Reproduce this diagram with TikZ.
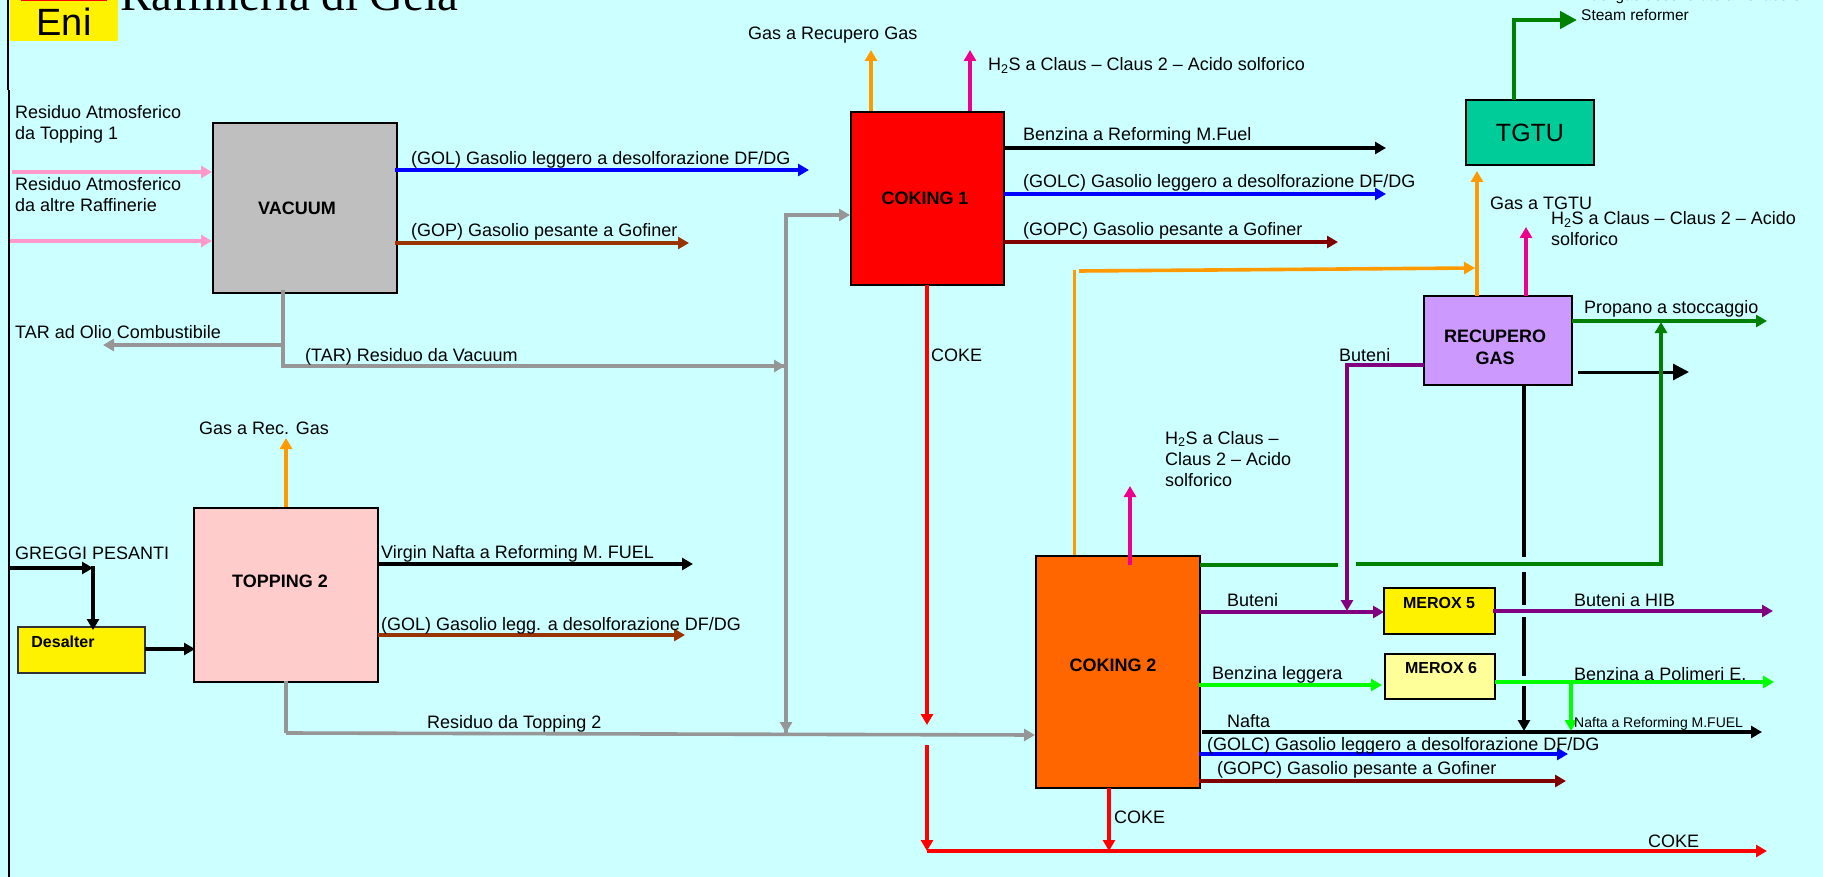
\documentclass[tikz,border=0pt]{standalone}
\usepackage{fontspec}
\setmainfont{Liberation Sans}
\newfontfamily\serifx{Liberation Serif}
\usetikzlibrary{arrows.meta}
\definecolor{bgc}{RGB}{204,255,255}
\definecolor{pinkf}{RGB}{255,153,204}
\definecolor{brownf}{RGB}{153,51,0}
\definecolor{dred}{RGB}{128,0,0}
\definecolor{orf}{RGB}{255,153,0}
\definecolor{purp}{RGB}{128,0,128}
\definecolor{dgreen}{RGB}{0,128,0}
\definecolor{lgreen}{RGB}{0,255,0}
\definecolor{greyf}{RGB}{150,150,150}
\tikzset{
 flow/.style={line width=3.6pt,-{Triangle[length=11pt,width=12pt]}},
 nflow/.style={line width=3.6pt},
 unit/.style={draw=black,line width=2.6pt,inner sep=0pt,font=\fontsize{18}{22}\selectfont\bfseries,align=center},
 lbl/.style={inner sep=0pt,anchor=base west,font=\fontsize{18}{21}\selectfont,align=left},
}
\begin{document}
\begin{tikzpicture}[x=1pt,y=-1pt]
\useasboundingbox (0,0) rectangle (1823,877);
\fill[bgc] (0,0) rectangle (1823,877);
\draw[black,line width=2.4pt] (8,0) -- (8,90);
\draw[black,line width=2.4pt] (9,90) -- (9,877);
% logo
\fill[yellow] (10,0) rectangle (118,41);
\fill[red] (21,0) rectangle (107,1);
\node[inner sep=0pt,anchor=base] (eni) at (64,36) {\fontsize{38}{40}\selectfont Eni};
\begin{scope}
\clip (0,0) rectangle (1823,877);
\node[inner sep=0pt,anchor=base west] (title) at (120,11) {\serifx\fontsize{47}{50}\selectfont Raffineria di Gela};
\end{scope}
% units
\node[unit,fill=gray!50!white,minimum width=184pt,minimum height=170pt] (vac) at (305,208) {};
\node[font=\fontsize{18}{22}\selectfont\bfseries,inner sep=0pt] (vact) at (297,208) {VACUUM};
\node[unit,fill=red!20!white,minimum width=184pt,minimum height=174pt] (top) at (286,595) {};
\node[font=\fontsize{18}{22}\selectfont\bfseries,inner sep=0pt] (topt) at (280,581) {TOPPING 2};
\node[draw=black!80,line width=2pt,fill=yellow,minimum width=127pt,minimum height=46pt,inner sep=0pt] (des) at (81.5,650) {};
\node[font=\fontsize{16}{20}\selectfont\bfseries,inner sep=0pt] (dest) at (63,642) {Desalter};
\node[unit,fill=red,minimum width=153pt,minimum height=173pt] (c1) at (927.5,198.5) {};
\node[font=\fontsize{18}{22}\selectfont\bfseries,inner sep=0pt] (c1t) at (925,198) {COKING 1};
\node[unit,fill={rgb,255:red,255;green,102;blue,0},minimum width=164pt,minimum height=232pt] (c2) at (1118,672) {};
\node[font=\fontsize{18}{22}\selectfont\bfseries,inner sep=0pt] (c2t) at (1113,665) {COKING 2};
\node[unit,fill={rgb,255:red,204;green,153;blue,255},minimum width=148pt,minimum height=89pt] (rec) at (1498,340.5) {};
\node[font=\fontsize{18}{22}\selectfont\bfseries,inner sep=0pt,align=center] (rect) at (1495,347) {RECUPERO\\GAS};
\node[draw=black,line width=1.8pt,fill={rgb,255:red,0;green,204;blue,153},minimum width=128pt,minimum height=65pt,inner sep=0pt,font=\fontsize{25}{28}\selectfont] (tgtu) at (1530,132.5) {TGTU};
\node[unit,fill=yellow,minimum width=111pt,minimum height=46pt] (m5) at (1439.5,611) {};
\node[font=\fontsize{16}{20}\selectfont\bfseries,inner sep=0pt] (m5t) at (1439,603) {MEROX 5};
\node[unit,fill={rgb,255:red,255;green,255;blue,153},minimum width=110pt,minimum height=45pt] (m6) at (1440,676.5) {};
\node[font=\fontsize{16}{20}\selectfont\bfseries,inner sep=0pt] (m6t) at (1441,668) {MEROX 6};
% coordinates
\coordinate (a1s) at (12,172); \coordinate (a1e) at (212,172);
\coordinate (a2s) at (10,241); \coordinate (a2e) at (212,241);
% inputs
\draw[flow,pinkf] (a1s) -- (a1e);
\draw[flow,pinkf] (a2s) -- (a2e);
% vacuum
\coordinate (v1) at (809,170); \coordinate (v2) at (689,243);
\draw[flow,blue] (395,170) -- (v1);
\draw[flow,brownf] (395,243) -- (v2);
\coordinate (tj) at (283,345); \coordinate (tar) at (103,345);
\coordinate (tk) at (283,366); \coordinate (g1) at (785,366);
\draw[nflow,greyf] (283,290) -- (tk) -- (g1);
\draw[flow,greyf] (tk) -- (g1);
\draw[flow,greyf] (tj) -- (tar);
\coordinate (gb) at (786,733); \coordinate (gt) at (786,215);
\draw[flow,greyf] (gb) -- (gt) -- (850,215);
\draw[flow,greyf] (786,500) -- (gb);
% topping
\draw[flow,orf] (286,507) -- (286,438);
\draw[flow,black] (378,564) -- (693,564);
\draw[flow,brownf] (378,635) -- (685,635);
\coordinate (rb) at (286,733);
\draw[nflow,greyf] (286,681) -- (rb);
\draw[flow,greyf] (rb) -- (1035,735);
% desalter
\draw[flow,black] (9,568) -- (93,568);
\draw[flow,black] (93,566) -- (93,630);
\draw[flow,black] (145,649) -- (195,649);
% coking 1
\draw[flow,orf] (871,111) -- (871,50);
\draw[flow,magenta] (970,111) -- (970,50);
\draw[flow,black] (1004,148) -- (1386,148);
\draw[flow,blue] (1004,194) -- (1386,194);
\draw[flow,dred] (1004,242) -- (1338,242);
\draw[flow,red] (927,285) -- (927,725);
\draw[flow,red] (927,745) -- (927,851);
% coking 2 orange
\draw[line width=3pt,orf] (1074,555) -- (1074,270);
\draw[flow,orf] (1079,271) -- (1475,268);
\draw[flow,orf] (1477,296) -- (1477,171);
\draw[flow,magenta] (1526,296) -- (1526,227);
\draw[flow,magenta] (1130,565) -- (1130,486);
% tgtu
\draw[line width=4.5pt,dgreen,-{Triangle[length=17pt,width=17pt]}] (1514,100) -- (1514,20) -- (1577,20);
% recupero
\draw[flow,dgreen] (1572,321) -- (1767,321);
\draw[line width=3pt,black,-{Triangle[length=16pt,width=16pt]}] (1578,372) -- (1689,372);
\draw[nflow,purp,line width=3.2pt] (1424,365) -- (1347,365) -- (1347,500);
\draw[flow,purp] (1347,365) -- (1347,611);
\draw[nflow,dgreen] (1200,565) -- (1338,565);
\draw[flow,dgreen] (1356,564) -- (1661,564) -- (1661,322);
\draw[nflow,black] (1524,385) -- (1524,557);
\draw[nflow,black] (1524,572) -- (1524,605);
\draw[nflow,black] (1524,617) -- (1524,676);
\draw[flow,black] (1524,686) -- (1524,731);
% coking 2 out
\draw[flow,purp] (1200,612) -- (1384,612);
\draw[flow,purp] (1493,611) -- (1773,611);
\draw[flow,lgreen] (1199,685) -- (1382,685);
\draw[flow,lgreen] (1495,682) -- (1774,682);
\draw[flow,lgreen] (1571,682) -- (1571,731);
\draw[flow,black] (1202,732) -- (1762,732);
\draw[flow,blue] (1199,754) -- (1568,754);
\draw[flow,dred] (1199,781) -- (1566,781);
\draw[flow,red] (1109,788) -- (1109,851);
\draw[flow,red] (927,851) -- (1767,851);
% labels
\node[lbl] (l1) at (15,140) {Residuo Atmosferico\\[0pt]da Topping 1};
\node[lbl] (l2) at (15,212) {Residuo Atmosferico\\[0pt]da altre Raffinerie};
\node[lbl] (l3) at (411,165) {(GOL) Gasolio leggero a desolforazione DF/DG};
\node[lbl] (l4) at (411,237) {(GOP) Gasolio pesante a Gofiner};
\node[lbl] (l5) at (15,338) {TAR ad Olio Combustibile};
\node[lbl] (l6) at (305,361) {(TAR) Residuo da Vacuum};
\node[lbl] (l7) at (199,434) {Gas a Rec. Gas};
\node[lbl] (l8) at (15,559) {GREGGI PESANTI};
\node[lbl] (l9) at (381,558) {Virgin Nafta a Reforming M. FUEL};
\node[lbl] (l10) at (381,630) {(GOL) Gasolio legg. a desolforazione DF/DG};
\node[lbl] (l11) at (427,728) {Residuo da Topping 2};
\node[lbl] (l12) at (748,40) {Gas a Recupero Gas};
\node[lbl] (l13) at (988,71) {H\textsubscript{2}S a Claus – Claus 2 – Acido solforico};
\node[lbl] (l14) at (1023,141) {Benzina a  Reforming M.Fuel};
\node[lbl] (l15) at (1023,188) {(GOLC) Gasolio leggero a desolforazione DF/DG};
\node[lbl] (l16) at (1023,236) {(GOPC) Gasolio pesante a Gofiner};
\node[lbl] (l17) at (931,361) {COKE};
\node[lbl] (l18) at (1165,486) {H\textsubscript{2}S a Claus –\\[0pt]Claus 2 – Acido\\[0pt]solforico};
\node[lbl] (l19) at (1490,210) {Gas a TGTU};
\node[lbl] (l20) at (1551,246) {H\textsubscript{2}S a Claus – Claus 2 – Acido\\[0pt]solforico};
\node[lbl] (l21) at (1584,314) {Propano a stoccaggio};
\node[lbl] (l22) at (1339,361) {Buteni};
\node[lbl,font=\fontsize{15.5}{20}\selectfont] (l23) at (1581,21) {Fuel gas desolforato a Texaco e\\Steam reformer};
\node[lbl] (l24) at (1227,606) {Buteni};
\node[lbl] (l25) at (1212,679) {Benzina leggera};
\node[lbl] (l26) at (1227,727) {Nafta};
\node[lbl] (l27) at (1207,750) {(GOLC) Gasolio leggero a desolforazione DF/DG};
\node[lbl] (l28) at (1217,774) {(GOPC) Gasolio pesante a Gofiner};
\node[lbl] (l29) at (1574,606) {Buteni a HIB};
\node[lbl] (l30) at (1574,680) {Benzina a Polimeri E.};
\node[lbl,font=\fontsize{14}{16}\selectfont] (l31) at (1574,727) {Nafta a Reforming M.FUEL};
\node[lbl] (l32) at (1114,823) {COKE};
\node[lbl] (l33) at (1648,847) {COKE};
\end{tikzpicture}
\end{document}
